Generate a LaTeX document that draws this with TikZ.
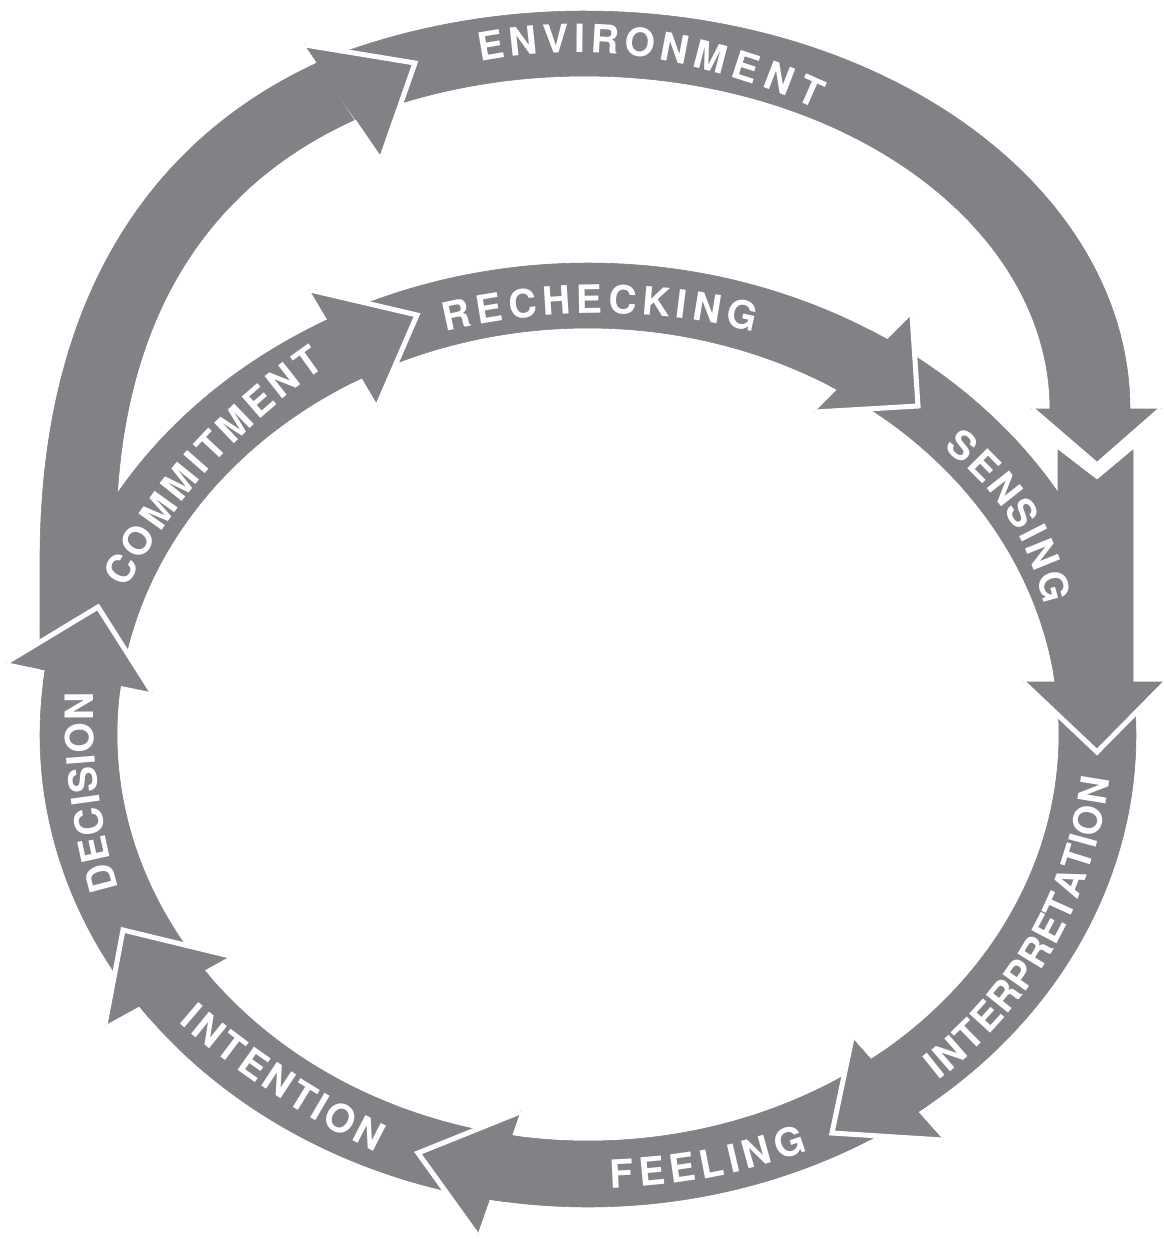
\documentclass[tikz,border=0pt]{standalone}
\usepackage{fontspec}
\newfontfamily\labfont{TeX Gyre Heros}
\definecolor{ringgray}{RGB}{129,130,134}
% #1 = bezier path, #2 = its length (px), #3 = letter/width list (1/1000 em)
\newcommand\ringword[3]{%
  \gdef\rwW{0}\gdef\rwN{0}\gdef\rwC{0}%
  \foreach \ch/\w [count=\k] in {#3}{%
    \pgfmathsetmacro\rwtmp{\rwW+\w}\global\let\rwW\rwtmp
    \xdef\rwN{\k}}%
  \pgfmathsetmacro\rwG{(#2-\rwW*0.039)/(\rwN-1)}%
  \foreach \ch/\w in {#3}{%
    \pgfmathsetmacro\rwpos{(\rwC+\w*0.0195)/#2}%
    \path #1 node[ringletter,pos=\rwpos]{\ch};
    \pgfmathsetmacro\rwtmp{\rwC+\w*0.039+\rwG}\global\let\rwC\rwtmp}%
}
% band of the inner cycle between two parametric angles
\newcommand\ringband[2]{%
  \fill[bandfill] plot[domain=#1:#2,samples=60] ({588+548*cos(\x)},{735+472*sin(\x)})
    -- plot[domain=#2:#1,samples=60] ({588+471*cos(\x)},{734.5+406.5*sin(\x)}) -- cycle;}
\begin{document}
\begin{tikzpicture}[x=1pt,y=-1pt,
  bandfill/.style={fill=ringgray,draw=ringgray,line width=0.6pt},
  headfill/.style={fill=ringgray,draw=ringgray,line width=0.6pt},
  headedge/.style={draw=white,line width=5pt,line join=miter},
  ringletter/.style={sloped,allow upside down,inner sep=0pt,outer sep=0pt,anchor=center,
    text=white,font=\labfont\bfseries\fontsize{39}{39}\selectfont}]
\useasboundingbox (0,0) rectangle (1163,1239);
\fill[white] (0,0) rectangle (1163,1239);

% ---------- outer loop ----------
% left part (rising to the ENVIRONMENT head)
\fill[bandfill] (40,669) -- (40,560) .. controls (40,300) and (150,140) .. (317,63)
  -- (354,120) .. controls (200,190) and (116,330) .. (116,540) -- (120,685) -- cycle;
% ENVIRONMENT band
\fill[bandfill] plot[domain=-119.6:1.5,samples=80] ({585+545*cos(\x)},{409+398*sin(\x)})
  -- plot[domain=1.5:-119.6,samples=80] ({585+465*cos(\x)},{409+333*sin(\x)}) -- cycle;
% right vertical band, notched below the ENVIRONMENT head
\fill[bandfill] (1058,450) -- (1097,480) -- (1133,450) -- (1133,684) -- (1058,684) -- cycle;

% ---------- inner cycle ----------
\ringband{186}{243.1}     % commitment
\ringband{240.1}{304}     % rechecking
\ringband{301}{354.5}     % sensing
\ringband{-8.5}{54.4}     % interpretation
\ringband{51.4}{101.5}    % feeling
\ringband{98.5}{146.2}    % intention
\ringband{143.2}{189}     % decision

% ---------- arrow heads ----------
\coordinate (hEa) at (305,45);   \coordinate (hEt) at (415,63);   \coordinate (hEb) at (382,157);
\coordinate (hCa) at (310,290);  \coordinate (hCt) at (417,315);  \coordinate (hCb) at (378,405);
\coordinate (hRa) at (912,315);  \coordinate (hRt) at (918,406);  \coordinate (hRb) at (815,412);
\coordinate (hVa) at (1032,409); \coordinate (hVt) at (1097,465); \coordinate (hVb) at (1161,409);
\coordinate (hSa) at (1023,682); \coordinate (hSt) at (1097,752); \coordinate (hSb) at (1166,682);
\coordinate (hIa) at (852,1038); \coordinate (hIt) at (832,1133); \coordinate (hIb) at (943,1140);
\coordinate (hFa) at (520,1112); \coordinate (hFt) at (418,1153); \coordinate (hFb) at (477,1235);
\coordinate (hNa) at (230,956);  \coordinate (hNt) at (123,930);  \coordinate (hNb) at (105,1025);
\coordinate (hDa) at (152,692);  \coordinate (hDt) at (98,607);   \coordinate (hDb) at (7,662);
\foreach \h in {E,C,R,V,S,I,F,N,D}{
  \fill[headfill] (h\h a) -- (h\h t) -- (h\h b) -- cycle;
  \draw[headedge] (h\h a) -- (h\h t) -- (h\h b);
}

% ---------- labels ----------
\ringword{(478,48) .. controls (592,26) and (707,43) .. (823,97)}{354}
  {E/667,N/722,V/667,I/278,R/722,O/778,N/722,M/833,E/667,N/722,T/611}
\ringword{(442,318) .. controls (548,293) and (653,293) .. (757,318)}{318}
  {R/722,E/667,C/722,H/722,E/667,C/722,K/722,I/278,N/722,G/778}
\ringword{(114,582) .. controls (163,491) and (231,415) .. (318,355)}{309}
  {C/722,O/778,M/833,M/833,I/278,T/611,M/833,E/667,N/722,T/611}
\ringword{(952,437) .. controls (1007,478) and (1043,533) .. (1058,602)}{199}
  {S/667,E/667,N/722,S/667,I/278,N/722,G/778}
\ringword{(105,892) .. controls (86,827) and (78,760) .. (79,692)}{201}
  {D/722,E/667,C/722,I/278,S/667,I/278,O/778,N/722}
\ringword{(929,1070) .. controls (1025,995) and (1080,896) .. (1096,776)}{349}
  {I/278,N/722,T/611,E/667,R/722,P/667,R/722,E/667,T/611,A/722,T/611,I/278,O/778,N/722}
\ringword{(610,1174) .. controls (677,1172) and (741,1160) .. (804,1137)}{198}
  {F/611,E/667,E/667,L/611,I/278,N/722,G/778}
\ringword{(188,1012) .. controls (247,1063) and (312,1105) .. (382,1140)}{233}
  {I/278,N/722,T/611,E/667,N/722,T/611,I/278,O/778,N/722}
\end{tikzpicture}
\end{document}
